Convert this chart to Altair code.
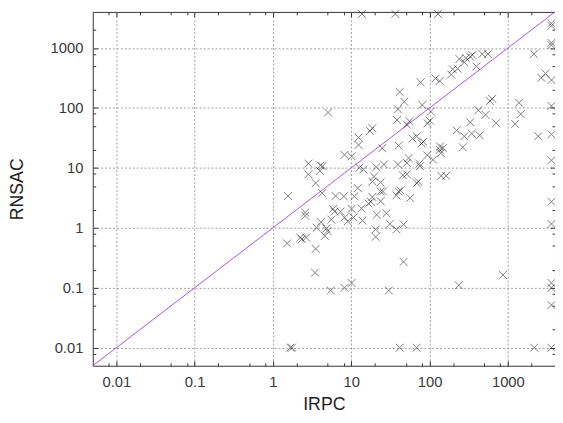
import altair as alt
import pandas as pd

# ---- data (IRPC on x, RNSAC on y) ----
irpc = [
    13.7, 36.6, 128, 5.06, 41.5, 47.5, 39.5, 38.4, 55.4, 51.3,
    18.6, 17.4, 12.4, 12.4, 76.9, 119, 135, 189, 198, 229,
    240, 278, 291, 331, 353, 397, 472, 557, 2146, 2681,
    3037, 3600, 3600, 3600, 3600, 3600, 80.8, 104, 101, 94.2,
    68.5, 590, 631, 421, 519, 331, 708, 1390, 1460, 1238,
    3600, 222, 278, 346, 437, 2438, 3600, 24.9, 40.3, 60.5,
    8.2, 10.1, 2.84, 4.30, 4.04, 3.98, 2.84, 3.51, 1.56, 4.25,
    6.32, 8.04, 10.96, 12.1, 12.7, 14.3, 20.9, 26.1, 39.5, 53.9,
    51.3, 45.7, 51.3, 19.5, 18.6, 23.7, 23.7, 25.4, 42.4, 40.3,
    37.7, 18.6, 17.8, 23.7, 16.6, 56.6, 5.85, 6.14, 7.31, 10.1,
    13.5, 5.58, 8.2, 9.03, 10.7, 13.9, 21.1, 28.2, 31.1, 37.7,
    46.6, 20.5, 20.5, 2.58, 2.58, 4.09, 3.62, 4.83, 4.97, 4.60,
    2.23, 2.34, 2.65, 1.52, 3.51, 46.6, 83.2, 79.1, 136, 148,
    135, 265, 93.3, 111, 139, 74.0, 75.6, 68.5, 71.9, 141,
    163, 3600, 3600, 3600, 3.44, 5.47, 8.2, 10.1, 30.2, 1.67,
    1.75, 41.5, 68.5, 2172, 3600, 236, 867, 3600, 3600, 3600,
]
rnsac = [
    3700, 3700, 3700, 84, 184, 127, 95, 63, 60, 52.8,
    46.1, 41.2, 32.1, 24.1, 268, 311, 281, 361, 440, 452,
    657, 579, 682, 716, 764, 493, 793, 793, 793, 318,
    375, 292, 2585, 2345, 1223, 1120, 112, 87, 61.3, 55.6,
    33.7, 130, 142, 91.5, 76.7, 57.7, 55.6, 122, 78.8, 54.2,
    108, 42.2, 33.7, 37.3, 35, 33.7, 36.3, 21.3, 23.5, 30.9,
    16.5, 15.6, 11.8, 10.7, 11.0, 8.9, 7.83, 5.59, 3.40, 3.80,
    3.40, 3.36, 3.36, 4.59, 10.06, 9.44, 10.3, 11.4, 11.4, 14.6,
    12.1, 7.54, 7.83, 7.18, 5.89, 5.74, 4.05, 4.05, 4.21, 4.03,
    3.49, 3.27, 2.72, 2.79, 2.55, 3.15, 2.07, 1.87, 1.87, 2.07,
    2.11, 1.37, 1.49, 1.28, 1.49, 1.32, 1.65, 1.75, 1.16, 0.94,
    1.14, 0.94, 0.706, 1.80, 1.59, 1.25, 1.0, 0.978, 0.884, 0.733,
    0.688, 0.648, 0.688, 0.55, 0.446, 0.27, 27.3, 25.6, 22.7, 21.3,
    20.0, 22.1, 16.2, 13.7, 17.6, 11.8, 10.7, 5.59, 5.89, 7.37,
    7.37, 13.4, 2.72, 1.16, 0.179, 0.090, 0.0998, 0.120, 0.090, 0.01,
    0.01, 0.01, 0.01, 0.01, 0.01, 0.110, 0.164, 0.120, 0.0998, 0.0515,
]
diag = [0.005, 4000]
axis_domain = [0.005, 4000]
major_ticks = [0.01, 0.1, 1, 10, 100, 1000]
minor_ticks = [0.008, 0.02, 0.05, 0.08, 0.2, 0.5, 0.8, 2, 5, 8, 20, 50, 80,
               200, 500, 800, 2000]

pts = pd.DataFrame({"IRPC": irpc, "RNSAC": rnsac})
ref = pd.DataFrame({"v": diag})

FONT = "Liberation Sans"
TICK = "#333333"
PURPLE = "#ad52e6"
XPATH = "M-1,-1L1,1M-1,1L1,-1"


def sc():
    return alt.Scale(type="log", domain=axis_domain, nice=False)


def tick_axis(orient, values, size):
    return alt.Axis(orient=orient, values=values, offset=-size, tickSize=size,
                    tickColor=TICK, tickWidth=1, domain=False, grid=False,
                    labels=False, zindex=1)


def label_axis(orient, title, pad, lpad):
    return alt.Axis(orient=orient, values=major_ticks, offset=-5, tickSize=5,
                    tickColor=TICK, tickWidth=1, domain=False, grid=False,
                    format="~g", labelFont=FONT, labelFontSize=15,
                    labelColor="#3a3a3a", labelPadding=lpad, labelFlush=False,
                    labelOverlap=False, title=title, titleFont=FONT,
                    titleFontSize=18, titleFontWeight="normal",
                    titleColor="#222222", titlePadding=pad, zindex=1)


def grid_axis(orient):
    return alt.Axis(orient=orient, values=major_ticks, grid=True,
                    gridColor="#a0a0a0", gridDash=[2, 2], gridWidth=1,
                    ticks=False, labels=False, domain=False, zindex=0)


grid_layer = alt.Chart(ref).mark_point(opacity=0).encode(
    x=alt.X("v:Q", scale=sc(), axis=grid_axis("bottom"), title=None),
    y=alt.Y("v:Q", scale=sc(), axis=grid_axis("left"), title=None),
)

line_layer = alt.Chart(ref).mark_line(color=PURPLE, strokeWidth=1).encode(
    x=alt.X("v:Q", scale=sc(), axis=tick_axis("bottom", minor_ticks, 3), title=None),
    y=alt.Y("v:Q", scale=sc(), axis=tick_axis("left", minor_ticks, 3), title=None),
)

point_layer = alt.Chart(pts).mark_point(
    shape=XPATH, filled=False, size=64, color="#000000", opacity=0.5,
    strokeWidth=1,
).encode(
    x=alt.X("IRPC:Q", scale=sc(), axis=label_axis("bottom", "IRPC", 6, 9)),
    y=alt.Y("RNSAC:Q", scale=sc(), axis=label_axis("left", "RNSAC", 24, 10)),
)

top_major = alt.Chart(ref).mark_point(opacity=0).encode(
    x=alt.X("v:Q", scale=sc(), axis=tick_axis("top", major_ticks, 5), title=None),
    y=alt.Y("v:Q", scale=sc(), axis=tick_axis("right", major_ticks, 5), title=None),
)

top_minor = alt.Chart(ref).mark_point(opacity=0).encode(
    x=alt.X("v:Q", scale=sc(), axis=tick_axis("top", minor_ticks, 3), title=None),
    y=alt.Y("v:Q", scale=sc(), axis=tick_axis("right", minor_ticks, 3), title=None),
)

chart = alt.layer(
    grid_layer, line_layer, point_layer, top_major, top_minor
).resolve_axis(
    x="independent", y="independent"
).resolve_scale(
    x="shared", y="shared"
).properties(
    width=469, height=359,
    autosize=alt.AutoSizeParams(type="none"),
    padding={"left": 86, "top": 1, "right": 0, "bottom": 47},
    background="white",
).configure_view(
    stroke="#333333", strokeWidth=1
)

chart.save("out.html", embed_options={"renderer": "svg", "actions": False})
